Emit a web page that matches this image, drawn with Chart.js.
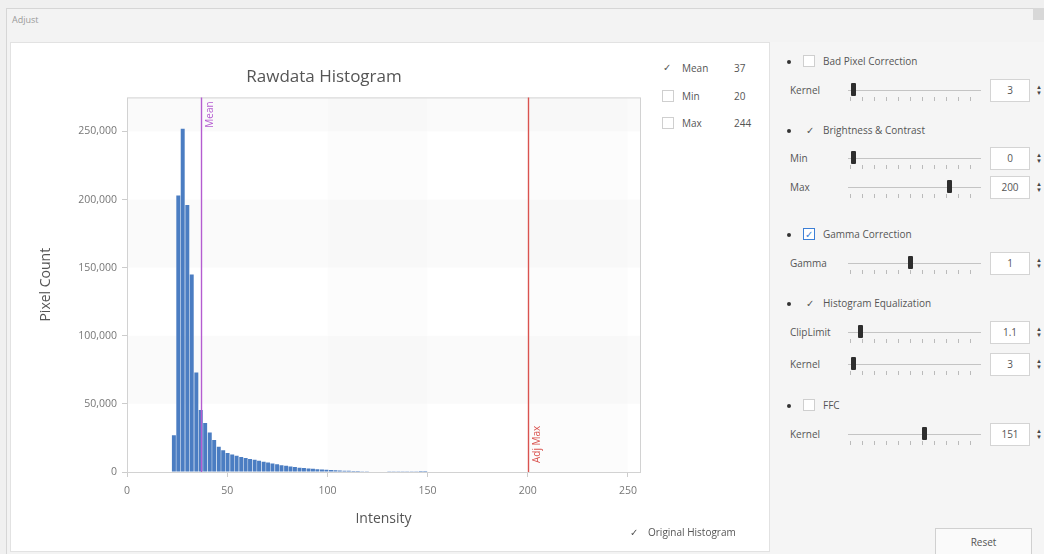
<!DOCTYPE html>
<html>
<head>
<meta charset="utf-8">
<script src="https://cdn.jsdelivr.net/npm/chart.js@4.4.1/dist/chart.umd.min.js"></script>
<style>
  body{margin:0;width:1044px;height:554px;overflow:hidden;background:#f0f0f0;font-family:"Open Sans",sans-serif;position:relative;color:#444}
  .abs{position:absolute}
  #frame{left:6px;top:8px;width:1044px;height:560px;border:1px solid #d6d6d6;background:#f3f3f3}
  #hdr{left:12px;top:13px;font-size:9px;color:#9a9a9a}
  #chartPanel{left:10px;top:42px;width:758px;height:508px;background:#fff;border:1px solid #e2e2e2}
  #side{left:770px;top:42px;width:274px;height:512px;background:#f5f5f5}
  .cb{width:12px;height:12px;border:1px solid #cfcfcf;background:#fff;box-sizing:border-box}
  .lbl{font-size:10px;color:#555;white-space:nowrap}
  .chk{font-size:10px;color:#555}
  .bullet{width:4px;height:4px;border-radius:2px;background:#333}
  .track{height:1px;background:#c4c4c4}
  .thumb{width:5px;height:13px;background:#2e2e2e;border-radius:1px}
  .ticks{height:4px;background:repeating-linear-gradient(90deg,#bbb 0 1px,transparent 1px 12px)}
  .num{width:40px;height:23px;border:1px solid #d4d4d4;background:#fff;box-sizing:border-box;font-size:10px;text-align:center;line-height:21px;color:#555}
  .spin{font-size:6px;line-height:6px;color:#444}
  #reset{left:935px;top:528px;width:97px;height:30px;border:1px solid #d0d0d0;background:#fafafa;box-sizing:border-box;font-size:10px;text-align:center;line-height:26px;color:#555}
  #corner{left:1033px;top:8px;width:11px;height:12px;background:#d8d8d8}
</style>
</head>
<body>
<div id="frame" class="abs"></div>
<div id="hdr" class="abs">Adjust</div>
<div id="corner" class="abs"></div>
<div id="chartPanel" class="abs"></div>
<div id="side" class="abs"></div>
<canvas id="chartCanvas" class="abs" style="left:8px;top:42px;width:640px;height:500px" width="640" height="500"></canvas>
<div id="controls"></div>
<div id="reset" class="abs">Reset</div>
<script>
// histogram data (bin centres and counts)
const intensities = [21.1, 23.4, 25.6, 27.8, 30.1, 32.3, 34.6, 36.8, 39.0, 41.3, 43.5, 45.8, 48.0, 50.2, 52.5, 54.7, 57.0, 59.2, 61.4, 63.7,
  65.9, 68.2, 70.4, 72.6, 74.9, 77.1, 79.4, 81.6, 83.8, 86.1, 88.3, 90.6, 92.8, 95.0, 97.3, 99.5, 101.8, 104.0, 106.2, 108.5,
  110.7, 113.0, 115.2, 117.4, 119.7, 121.9, 124.2, 126.4, 128.6, 130.9, 133.1, 135.4, 137.6, 139.8, 142.1, 144.3, 146.6, 148.8];
const pixelCounts = [300, 27000, 203000, 252000, 196000, 145000, 73000, 45500, 36000, 29000, 23500, 18500, 16000, 14000, 12800, 12000, 11000, 10300, 9600, 9000,
  8300, 7600, 6900, 6200, 5600, 5000, 4500, 4000, 3600, 3200, 2900, 2600, 2300, 2050, 1800, 1600, 1400, 1250, 1100, 950,
  850, 750, 650, 570, 500, 440, 380, 330, 290, 250, 220, 190, 160, 140, 120, 100, 80, 60];

const xTickValues = [0, 50, 100, 150, 200, 250];
const yTickValues = [0, 50000, 100000, 150000, 200000, 250000];

const meanValue = 37;
const adjMaxValue = 200;

const statNames = ['Mean', 'Min', 'Max'];
const statValues = [37, 20, 244];
const statChecked = [true, false, false];

//side panel sections
const sectionNames = ['Bad Pixel Correction', 'Brightness & Contrast', 'Gamma Correction', 'Histogram Equalization', 'FFC'];
const sectionState = ['box', 'tick', 'blue', 'tick', 'box'];
const sliderNames = ['Kernel', 'Min', 'Max', 'Gamma', 'ClipLimit', 'Kernel', 'Kernel'];
const sliderValues = ['3', '0', '200', '1', '1.1', '3', '151'];
const sliderPos = [0.02, 0.02, 0.77, 0.47, 0.08, 0.02, 0.58];


//building the html controls
const controls = document.getElementById('controls');
function put(cls, x, y, html) {
    const d = document.createElement('div');
    d.className = 'abs ' + cls;
    d.style.left = x + 'px';
    d.style.top = y + 'px';
    if (html !== undefined) d.innerHTML = html;
    controls.appendChild(d);
    return d;
}

// Mean / Min / Max checkboxes
const statY = [61, 89, 116];
for (let i = 0; i < statNames.length; i++) {
    if (statChecked[i]) put('chk', 663, statY[i] - 1, '&#10003;');
    else put('cb', 662, statY[i] + 1);
    put('lbl', 682, statY[i], statNames[i]);
    put('lbl', 734, statY[i], String(statValues[i]));
}
put('chk', 630, 525, '&#10003;');
put('lbl', 648, 525, 'Original Histogram');

// sections
const sectionY = [62, 131, 235, 304, 406];
for (let i = 0; i < sectionNames.length; i++) {
    const y = sectionY[i];
    put('bullet', 787, y - 2);
    if (sectionState[i] === 'box') put('cb', 803, y - 7);
    else if (sectionState[i] === 'tick') put('chk', 806, y - 8, '&#10003;');
    else {
        const b = put('cb', 803, y - 7, '&#10003;');
        b.style.border = '1px solid #3c7fd6';
        b.style.fontSize = '10px';
        b.style.lineHeight = '10px';
        b.style.color = '#3c7fd6';
        b.style.textAlign = 'center';
    }
    put('lbl', 823, y - 8, sectionNames[i]);
}

// sliders
const sliderY = [91, 159, 188, 264, 333, 365, 435];
for (let i = 0; i < sliderNames.length; i++) {
    const y = sliderY[i];
    put('lbl', 790, y - 8, sliderNames[i]);
    const t = put('track', 848, y - 1);
    t.style.width = '133px';
    const tk = put('ticks', 850, y + 6);
    tk.style.width = '132px';
    put('thumb', 848 + sliderPos[i] * 128, y - 8);
    put('num', 990, y - 12, sliderValues[i]);
    put('spin', 1036, y - 7, '&#9650;<br>&#9660;');
}


// chart plugins
const bandPlugin = {
    id: 'bands',
    beforeDatasetsDraw(chart) {
        const {ctx, chartArea: a, scales: {x, y}} = chart;
        ctx.save();
        ctx.fillStyle = 'rgba(0,0,0,0.018)';
        for (let i = 1; i < yTickValues.length; i += 2) {
            const top = i + 1 < yTickValues.length ? y.getPixelForValue(yTickValues[i + 1]) : a.top;
            const bot = y.getPixelForValue(yTickValues[i]);
            ctx.fillRect(a.left, top, a.right - a.left, bot - top);
        }
        ctx.fillStyle = 'rgba(0,0,0,0.012)';
        for (let i = 2; i < xTickValues.length; i += 2) {
            const l = x.getPixelForValue(xTickValues[i]);
            const r = x.getPixelForValue(xTickValues[i + 1] !== undefined ? xTickValues[i + 1] : x.max);
            ctx.fillRect(l, a.top, r - l, a.bottom - a.top);
        }
        ctx.strokeStyle = '#d2d2d2';
        ctx.lineWidth = 1;
        ctx.strokeRect(a.left + 0.5, a.top + 0.5, a.right - a.left, a.bottom - a.top);
        ctx.restore();
    }
};

const linePlugin = {
    id: 'statLines',
    afterDatasetsDraw(chart) {
        const {ctx, chartArea: a, scales: {x}} = chart;
        function vline(v, color, w, text, atTop) {
            const px = Math.round(x.getPixelForValue(v)) + 0.5;
            ctx.save();
            ctx.strokeStyle = color;
            ctx.lineWidth = w;
            ctx.beginPath();
            ctx.moveTo(px, a.top);
            ctx.lineTo(px, a.bottom);
            ctx.stroke();
            ctx.translate(px + 9, atTop ? a.top + 4 : a.bottom - 9);
            ctx.rotate(-Math.PI / 2);
            ctx.fillStyle = color;
            ctx.font = '10px "Open Sans"';
            ctx.textBaseline = 'middle';
            ctx.textAlign = atTop ? 'right' : 'left';
            ctx.fillText(text, 0, 0);
            ctx.restore();
        }
        vline(meanValue, '#b45cd0', 1.4, 'Mean', true);
        vline(adjMaxValue, '#d9534f', 1.4, 'Adj Max', false);
    }
};

const pts = intensities.map((v, i) => ({x: v, y: pixelCounts[i]}));

const config = {
    type: 'bar',
    data: {
        datasets: [{
            label: 'Pixel Count',
            data: pts,
            backgroundColor: '#4b7dc2',
            borderWidth: 0,
            barPercentage: 0.9,
            categoryPercentage: 1
        }]
    },
    options: {
        responsive: false,
        animation: false,
        layout: {padding: {left: 0, right: 8, top: 0, bottom: 10}},
        plugins: {
            legend: {display: false},
            tooltip: {enabled: false},
            title: {
                display: true,
                text: 'Rawdata Histogram',
                color: '#555',
                font: {family: 'Open Sans', size: 17, weight: 'normal'},
                padding: {top: 25, bottom: 10}
            }
        },
        scales: {
            x: {
                type: 'linear',
                min: 0,
                max: 256,
                offset: false,
                afterBuildTicks: s => { s.ticks = xTickValues.map(v => ({value: v})); },
                afterFit: s => { s.height = 60; },
                ticks: {color: '#777', font: {family: 'Open Sans', size: 10.5}, padding: 8, maxRotation: 0},
                grid: {drawOnChartArea: false, offset: false, tickLength: 5, color: '#ccc'},
                border: {display: false},
                title: {display: true, text: 'Intensity', color: '#555', font: {family: 'Open Sans', size: 14}, padding: {top: 4, bottom: 5}}
            },
            y: {
                min: 0,
                max: 275000,
                afterBuildTicks: s => { s.ticks = yTickValues.map(v => ({value: v})); },
                afterFit: s => { s.width = 119; },
                ticks: {color: '#777', font: {family: 'Open Sans', size: 10.5}, padding: 5},
                grid: {drawOnChartArea: false, tickLength: 5, color: '#ccc'},
                border: {display: false},
                title: {display: true, text: 'Pixel Count', color: '#555', font: {family: 'Open Sans', size: 14}, padding: {top: 30, bottom: 0}}
            }
        }
    },
    plugins: [bandPlugin, linePlugin]
};

var myChart = new Chart(document.getElementById('chartCanvas'), config);
</script>
</body>
</html>
